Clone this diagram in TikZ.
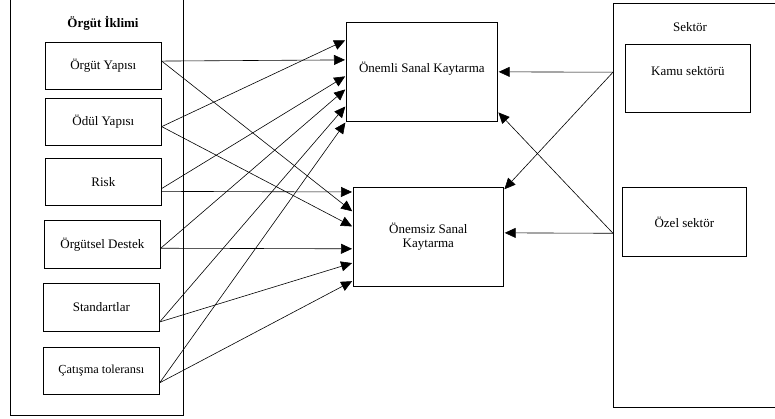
\documentclass[tikz,border=0pt]{standalone}
\usepackage{fontspec}
\setmainfont{Liberation Serif}
\usetikzlibrary{arrows.meta,calc}

\begin{document}
\begin{tikzpicture}[x=1pt,y=-1pt]
	\tikzset{kutu/.style={draw, line width=0.7pt, anchor=north west, inner sep=2pt, align=center, font=\fontsize{13}{14}\selectfont}}
	\tikzset{ok/.style={-{Triangle[length=11pt,width=10pt]}, line width=0.6pt, shorten >=1pt}}
	%\tikzset{ok/.style={-latex}}
	\useasboundingbox (0,0) rectangle (775,419);
	\clip (0,0) rectangle (775,419);
	% dis kutular
	\node[kutu, minimum width=173pt, minimum height=425pt] (iklim) at (10,-10) {};
	\node[kutu, minimum width=200pt, minimum height=404pt] (sektor) at (613,3) {};
	\node[font=\fontsize{13}{14}\selectfont\bfseries] (iklimbaslik) at (103,23) {Örgüt İklimi};
	\node[font=\fontsize{13}{14}\selectfont] (sektorbaslik) at (690,27) {Sektör};
	% orgut iklimi
	\node[kutu, minimum width=116pt, minimum height=47pt] (orgyap) at (45,42) {Örgüt Yapısı};
	\node[kutu, minimum width=116pt, minimum height=47pt] (odul) at (45,98) {Ödül Yapısı};
	\node[kutu, minimum width=116pt, minimum height=47pt] (risk) at (45,158) {Risk};
	\node[kutu, minimum width=116pt, minimum height=48pt] (destek) at (44,220) {Örgütsel Destek};
	\node[kutu, minimum width=116pt, minimum height=48pt] (standart) at (43,283) {Standartlar};
	\node[kutu, minimum width=116pt, minimum height=47pt, font=\fontsize{12.3}{14}\selectfont] (catisma) at (43,347) {Çatışma toleransı};
	% kaytarma
	\node[kutu, minimum width=151pt, minimum height=99pt] (onemli) at (346,22) {Önemli Sanal Kaytarma\\[-5pt]};
	\node[kutu, minimum width=150pt, minimum height=99pt, font=\fontsize{13}{13.5}\selectfont] (onemsiz) at (353,187) {Önemsiz Sanal\\Kaytarma};
	% sektor
	\node[kutu, minimum width=125pt, minimum height=68pt] (kamu) at (625,44) {Kamu sektörü\\};
	\node[kutu, minimum width=124pt, minimum height=69pt] (ozel) at (622,187) {Özel sektör};
	% oklar
	\draw[ok] ($(orgyap.north east)!0.4!(orgyap.south east)$) -- ($(onemli.north west)!0.38!(onemli.south west)$);
	\draw[ok] ($(orgyap.north east)!0.4!(orgyap.south east)$) -- ($(onemsiz.north west)!0.25!(onemsiz.south west)$);
	\draw[ok] ($(odul.north east)!0.6!(odul.south east)$) -- ($(onemli.north west)!0.18!(onemli.south west)$);
	\draw[ok] ($(odul.north east)!0.6!(odul.south east)$) -- ($(onemsiz.north west)!0.4!(onemsiz.south west)$);
	\draw[ok] ($(risk.north east)!0.64!(risk.south east)$) -- ($(onemli.north west)!0.54!(onemli.south west)$);
	\draw[ok] ($(risk.north east)!0.7!(risk.south east)$) -- ($(onemsiz.north west)!0.05!(onemsiz.south west)$);
	\draw[ok] ($(destek.north east)!0.58!(destek.south east)$) -- ($(onemli.north west)!0.67!(onemli.south west)$);
	\draw[ok] ($(destek.north east)!0.58!(destek.south east)$) -- ($(onemsiz.north west)!0.62!(onemsiz.south west)$);
	\draw[ok] ($(standart.north east)!0.8!(standart.south east)$) -- ($(onemli.north west)!0.84!(onemli.south west)$);
	\draw[ok] ($(standart.north east)!0.8!(standart.south east)$) -- ($(onemsiz.north west)!0.76!(onemsiz.south west)$);
	\draw[ok] ($(catisma.north east)!0.75!(catisma.south east)$) -- (onemli.south west);
	\draw[ok] ($(catisma.north east)!0.75!(catisma.south east)$) -- ($(onemsiz.north west)!0.94!(onemsiz.south west)$);
	\draw[ok] ($(sektor.north west)!0.171!(sektor.south west)$) -- (onemli.east);
	\draw[ok] ($(sektor.north west)!0.171!(sektor.south west)$) -- ($(onemsiz.north east)!0.03!(onemsiz.south east)$);
	\draw[ok] ($(sektor.north west)!0.569!(sektor.south west)$) -- ($(onemsiz.north east)!0.46!(onemsiz.south east)$);
	\draw[ok] ($(sektor.north west)!0.569!(sektor.south west)$) -- ($(onemli.north east)!0.9!(onemli.south east)$);
\end{tikzpicture}
\end{document}
